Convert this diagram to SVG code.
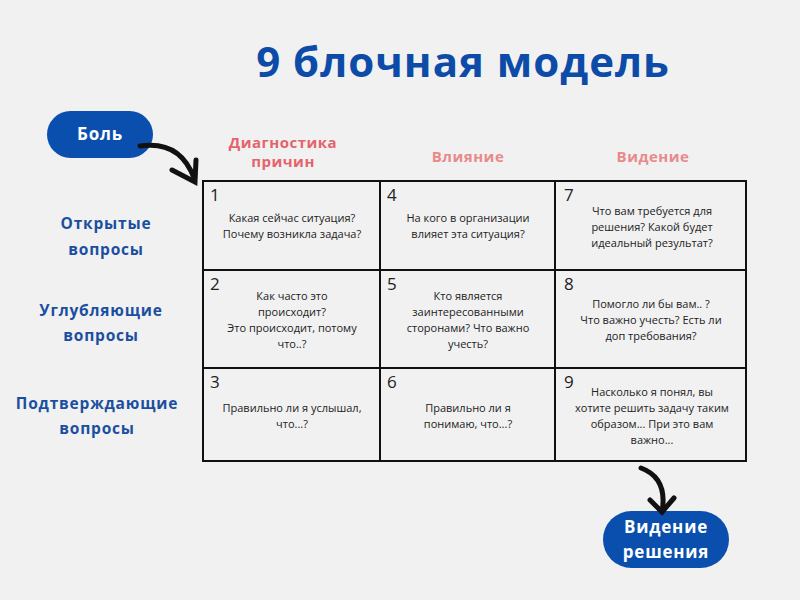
<svg xmlns="http://www.w3.org/2000/svg" width="800" height="600" viewBox="0 0 800 600">
<defs><style>
.t{font-family:"Open Sans","Liberation Sans",sans-serif;font-size:11px;fill:#222;text-anchor:middle}
.n{font-family:"Open Sans","Liberation Sans",sans-serif;font-size:17px;fill:#222}
.h{font-family:"Open Sans","Liberation Sans",sans-serif;font-size:15px;font-weight:bold;text-anchor:middle;letter-spacing:0.5px}
.q{font-family:"Open Sans","Liberation Sans",sans-serif;font-size:15.5px;font-weight:bold;fill:#1a4fa0;text-anchor:middle;letter-spacing:0.8px}
.p{font-family:"Open Sans","Liberation Sans",sans-serif;font-size:17px;font-weight:bold;fill:#fff;text-anchor:middle;letter-spacing:0.8px}
.c{fill:none;stroke:#111;stroke-width:5;stroke-linecap:round}
</style></defs>
<rect width="800" height="600" fill="#f1f1f1"/>
<text x="463" y="77" font-family="Open Sans,Liberation Sans,sans-serif" font-size="42" font-weight="bold" fill="#0c4ca8" text-anchor="middle" letter-spacing="1">9 блочная модель</text>
<g id="pain"><rect x="47" y="111" width="106" height="47" rx="23.5" fill="#0a4fae"/><text class="p" x="100" y="140">Боль</text></g>
<g id="vision"><rect x="603" y="511" width="126" height="57" rx="28.5" fill="#0a4fae"/><text class="p" x="666" y="533">Видение</text><text class="p" x="666" y="558">решения</text></g>
<g id="headers">
<text class="h" fill="#e5636b" x="283" y="148">Диагностика</text><text class="h" fill="#e5636b" x="283" y="167">причин</text>
<text class="h" fill="#e98a8a" x="468" y="162">Влияние</text>
<text class="h" fill="#e98a8a" x="653" y="162">Видение</text>
<text class="q" x="106" y="229">Открытые</text><text class="q" x="106" y="255">вопросы</text>
<text class="q" x="101" y="316">Углубляющие</text><text class="q" x="101" y="341">вопросы</text>
<text class="q" x="97" y="409">Подтверждающие</text><text class="q" x="97" y="434">вопросы</text>
</g>
<g id="grid" fill="none" stroke="#111" stroke-width="2">
<rect x="203" y="181" width="543" height="280"/>
<line x1="380" y1="181" x2="380" y2="461"/><line x1="555" y1="181" x2="555" y2="461"/>
<line x1="203" y1="270" x2="746" y2="270"/><line x1="203" y1="368" x2="746" y2="368"/>
</g>
<g id="cells">
<text class="n" x="210" y="201">1</text><text class="t" x="292" y="222">Какая сейчас ситуация?</text><text class="t" x="292" y="238">Почему возникла задача?</text>
<text class="n" x="387" y="201">4</text><text class="t" x="468" y="222">На кого в организации</text><text class="t" x="468" y="238">влияет эта ситуация?</text>
<text class="n" x="564" y="201">7</text><text class="t" x="652" y="215">Что вам требуется для</text><text class="t" x="652" y="231">решения? Какой будет</text><text class="t" x="652" y="247">идеальный результат?</text>
<text class="n" x="210" y="290">2</text><text class="t" x="292" y="300">Как часто это</text><text class="t" x="292" y="316">происходит?</text><text class="t" x="292" y="332">Это происходит, потому</text><text class="t" x="292" y="348">что..?</text>
<text class="n" x="387" y="290">5</text><text class="t" x="468" y="300">Кто является</text><text class="t" x="468" y="316">заинтересованными</text><text class="t" x="468" y="332">сторонами? Что важно</text><text class="t" x="468" y="348">учесть?</text>
<text class="n" x="564" y="290">8</text><text class="t" x="651" y="308">Помогло ли бы  вам.. ?</text><text class="t" x="651" y="324">Что важно учесть? Есть ли</text><text class="t" x="651" y="340">доп требования?</text>
<text class="n" x="210" y="388">3</text><text class="t" x="292" y="412">Правильно ли я услышал,</text><text class="t" x="292" y="428">что...?</text>
<text class="n" x="387" y="388">6</text><text class="t" x="468" y="412">Правильно ли я</text><text class="t" x="468" y="428">понимаю, что...?</text>
<text class="n" x="564" y="388">9</text><text class="t" x="652" y="396">Насколько я понял, вы</text><text class="t" x="652" y="412">хотите решить задачу таким</text><text class="t" x="652" y="428">образом...  При это вам</text><text class="t" x="652" y="444">важно...</text>
</g>
<g id="connectors">
<path class="c" d="M140 146 Q180 140 194 178"/><path class="c" d="M172 170 L195 182 L196 160" stroke-linejoin="miter"/>
<path class="c" d="M641 468 Q668 478 662 512"/><path class="c" d="M650 500 L662 512 L674 498"/>
</g>
</svg>
